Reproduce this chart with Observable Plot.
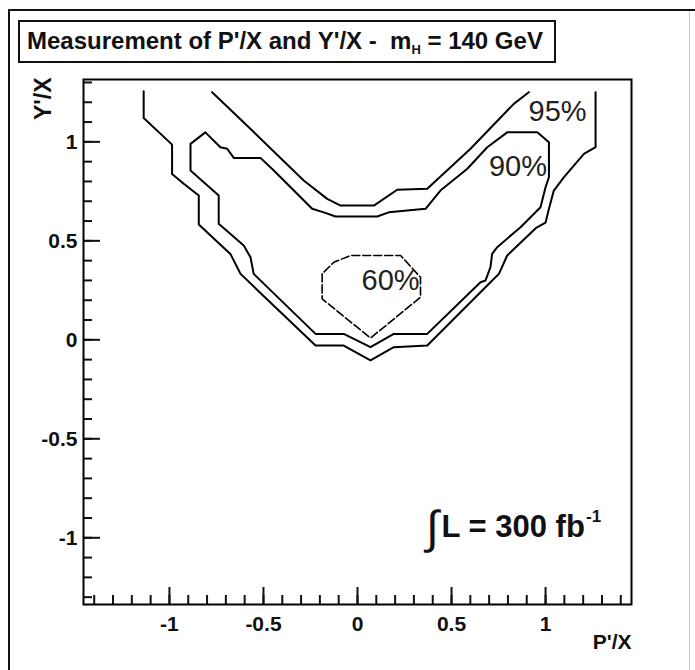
<!DOCTYPE html>
<html>
<head>
<meta charset="utf-8">
<script src="https://cdn.jsdelivr.net/npm/d3@7"></script>
<script src="https://cdn.jsdelivr.net/npm/@observablehq/plot@0.6"></script>
<style>
  html, body { margin: 0; padding: 0; background: #fff; }
  #wrap { position: relative; width: 695px; height: 670px; background: #fff; overflow: hidden;
          font-family: "Liberation Sans", Arial, Helvetica, sans-serif; color: #111; }
  #chart { position: absolute; left: 0; top: 70px; z-index: 1; }
  #outerLeft { position: absolute; left: 8px; top: 9px; width: 2px; height: 661px; background: #111; z-index: 3; }
  #outerTop { position: absolute; left: 8px; top: 9px; width: 687px; height: 2px; background: #111; z-index: 3; }
  #outerRight { position: absolute; left: 689px; top: 11px; width: 1px; height: 659px; background: #c8c8c8; z-index: 3; }
  #title { position: absolute; left: 18px; top: 20px; width: 538px; height: 43px; box-sizing: border-box; z-index: 2;
           border: 2px solid #111; background: #fff;
           font-weight: bold; font-size: 24px; line-height: 38px; padding-left: 7px; white-space: nowrap; }
  #title sub { font-size: 13px; vertical-align: -5px; line-height: 0; }
</style>
</head>
<body>
<div id="wrap">
  <div id="chart"></div>
  <div id="title">Measurement of P'/X and Y'/X -&nbsp;&nbsp;m<sub>H</sub> = 140 GeV</div>
  <div id="outerLeft"></div>
  <div id="outerTop"></div>
  <div id="outerRight"></div>
</div>
<script>
// ---- data ----
const contour95Outer = [
  [-1.137, 1.256], [-1.137, 1.121], [-0.986, 0.986], [-0.986, 0.838], [-0.924, 0.788],
  [-0.844, 0.729], [-0.844, 0.582], [-0.676, 0.434], [-0.622, 0.333], [-0.223, -0.029],
  [-0.073, -0.029], [0.069, -0.104], [0.193, -0.037], [0.371, -0.029], [0.707, 0.291],
  [0.752, 0.333], [0.796, 0.426], [0.952, 0.567], [1.000, 0.592], [1.018, 0.662],
  [1.044, 0.754], [1.097, 0.821], [1.204, 0.939], [1.266, 0.973], [1.266, 1.251]
];
const contour95Inner = [
  [-0.773, 1.251], [-0.560, 1.057], [-0.286, 0.805], [-0.161, 0.712], [-0.090, 0.678],
  [0.087, 0.678], [0.211, 0.758], [0.371, 0.763], [0.601, 0.965], [0.831, 1.192], [0.911, 1.251]
];
const contour90 = [
  [-0.809, 1.048], [-0.729, 0.973], [-0.693, 0.965], [-0.658, 0.919], [-0.516, 0.919],
  [-0.445, 0.855], [-0.241, 0.662], [-0.179, 0.644], [-0.117, 0.623], [0.105, 0.623],
  [0.166, 0.644], [0.362, 0.662], [0.441, 0.754], [0.584, 0.864], [0.690, 0.973],
  [0.796, 1.048], [0.956, 1.048], [1.018, 0.998], [1.018, 0.821], [1.000, 0.771],
  [0.973, 0.670], [0.867, 0.569], [0.743, 0.468], [0.716, 0.434], [0.707, 0.367],
  [0.681, 0.300], [0.654, 0.291], [0.371, 0.030], [0.193, 0.030], [0.069, -0.037],
  [-0.073, 0.030], [-0.223, 0.030], [-0.552, 0.333], [-0.569, 0.417], [-0.605, 0.476],
  [-0.738, 0.586], [-0.738, 0.729], [-0.888, 0.855], [-0.888, 0.990], [-0.809, 1.048]
];
const contour60 = [
  [-0.188, 0.333], [-0.188, 0.207], [0.069, 0.009], [0.335, 0.215], [0.335, 0.316],
  [0.229, 0.426], [-0.037, 0.426], [-0.126, 0.392], [-0.188, 0.333]
];
const levelLabels = ["95%", "90%", "60%"];
const levelLabelX = [1.064, 0.853, 0.176];
const levelLabelY = [1.150, 0.872, 0.299];

const lumiSymbol = ["∫"];
const lumiText = ["L = 300 fb"];
const lumiExponent = ["-1"];

const xTicks = [-1, -0.5, 0, 0.5, 1];
const xTickLabels = ["-1", "-0.5", "0", "0.5", "1"];
const yTicks = [-1, -0.5, 0, 0.5, 1];
const yTickLabels = ["-1", "-0.5", "0", "0.5", "1"];
const xMinorTicks = d3.range(-14, 15).map(k => k / 10);
const yMinorTicks = d3.range(-13, 14).map(k => k / 10);
const xLabel = "P'/X";
const yLabel = "Y'/X";

// ---- chart ----
const lineOpts = {x: d => d[0], y: d => d[1], stroke: "#000", strokeWidth: 2, curve: "linear"};

const chart = Plot.plot({
  width: 695,
  height: 600,
  marginLeft: 83,
  marginRight: 64,
  marginTop: 9,
  marginBottom: 66,
  x: {domain: [-1.457, 1.457]},
  y: {domain: [-1.337, 1.315]},
  style: {fontFamily: "'Liberation Sans', Arial, Helvetica, sans-serif", background: "transparent", color: "#111", overflow: "visible"},
  marks: [
    Plot.line(contour95Outer, lineOpts),
    Plot.line(contour95Inner, lineOpts),
    Plot.line(contour90, lineOpts),
    Plot.line(contour60, {...lineOpts, strokeWidth: 1.6, strokeDasharray: "8,3"}),
    Plot.text(levelLabels, {x: (d, i) => levelLabelX[i], y: (d, i) => levelLabelY[i], text: d => d,
      fontSize: 29, fill: "#222"}),
    Plot.text(lumiSymbol, {x: 0.399, y: -0.95, text: d => d, fontSize: 46, fill: "#111"}),
    Plot.text(lumiText, {x: 0.447, y: -0.947, text: d => d, textAnchor: "start",
      fontSize: 31, fontWeight: "bold", fill: "#111"}),
    Plot.text(lumiExponent, {x: 1.215, y: -0.895, text: d => d, textAnchor: "start",
      fontSize: 17, fontWeight: "bold", fill: "#111"}),
    Plot.axisX(xMinorTicks, {tickSize: -9, strokeWidth: 2, fill: "none", label: null}),
    Plot.axisX(xTicks, {tickSize: -17, tickPadding: 29, strokeWidth: 2, label: null,
      tickFormat: d => xTickLabels[xTicks.indexOf(d)], fontSize: 21, fontWeight: "bold"}),
    Plot.axisY(yMinorTicks, {tickSize: -9, strokeWidth: 2, fill: "none", label: null}),
    Plot.axisY(yTicks, {tickSize: -17, tickPadding: 23, strokeWidth: 2, label: null,
      tickFormat: d => yTickLabels[yTicks.indexOf(d)], fontSize: 21, fontWeight: "bold"}),
    Plot.frame({stroke: "#000", strokeWidth: 2}),
    Plot.text([xLabel], {frameAnchor: "bottom-right", text: d => d, textAnchor: "end",
      dy: 44, fontSize: 21, fontWeight: "bold", fill: "#111"}),
    Plot.text([yLabel], {frameAnchor: "top-left", text: d => d, textAnchor: "end", rotate: -90,
      dx: -49, dy: -2, fontSize: 23, fontWeight: "bold", fill: "#111"})
  ]
});
document.getElementById("chart").appendChild(chart);
</script>
</body>
</html>
